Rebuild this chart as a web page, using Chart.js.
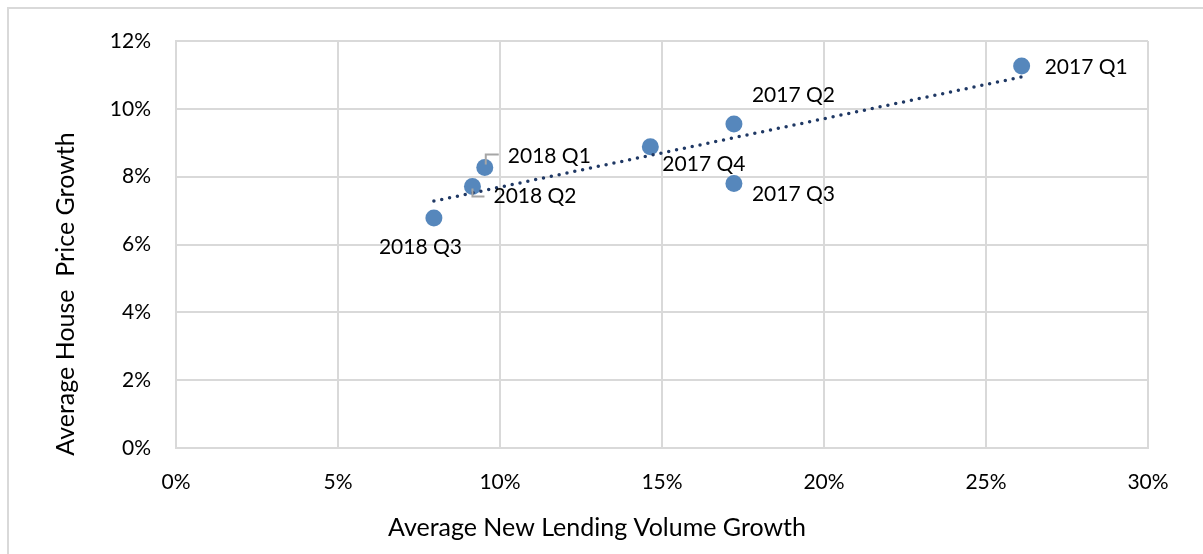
<!DOCTYPE html>
<html>
<head>
<meta charset="utf-8">
<script src="https://cdn.jsdelivr.net/npm/chart.js@4.4.1/dist/chart.umd.min.js"></script>
<style>
  html, body { margin: 0; padding: 0; background: #fff; }
  #wrap { position: relative; width: 1203px; height: 554px; }
  #frame { position: absolute; left: 7px; top: 7px; right: -2px; bottom: -2px; border-left: 2px solid #D9D9D9; border-top: 2px solid #D9D9D9; }
  canvas { position: absolute; left: 0; top: 0; }
</style>
</head>
<body>
<div id="wrap">
  <div id="frame"></div>
  <canvas id="scatterChart" width="1203" height="554"></canvas>
</div>
<script>
// quarter labels and values (% growth)
const quarters = ["2017 Q1", "2017 Q2", "2017 Q3", "2017 Q4", "2018 Q1", "2018 Q2", "2018 Q3"];
const lendingGrowth = [26.1, 17.22, 17.22, 14.64, 9.53, 9.15, 7.96];
const priceGrowth = [11.26, 9.55, 7.80, 8.88, 8.27, 7.71, 6.78];

// trendline end points
const trendX = [7.96, 26.1];
const trendY = [7.28, 10.94];

const xTicks = [0, 5, 10, 15, 20, 25, 30];
const yTicks = [0, 2, 4, 6, 8, 10, 12];

const xTitle = "Average New Lending Volume Growth";
const yTitle = "Average House  Price Growth";

// label offsets from each point (px)
const labelOffsets = [[23, 1], [18, -29], [18, 11], [12, 17], [23, -11], [21, 10], [-55, 29]];
// leader lines for the two crowded labels
const leaders = {
  4: [[1, -3], [1, -13], [14, -13]],
  5: [[0, 2], [0, 10], [12, 10]]
};

const FONT = "Lato, 'Open Sans', sans-serif";

document.addEventListener("DOMContentLoaded", function () {
  const ctx = document.getElementById("scatterChart").getContext("2d");

  const pointLabels = {
    id: "pointLabels",
    afterDatasetsDraw(chart) {
      const meta = chart.getDatasetMeta(1);
      const c = chart.ctx;
      c.save();
      // leader lines
      c.strokeStyle = "#A6A6A6";
      c.lineWidth = 2;
      Object.keys(leaders).forEach(function (k) {
        const p = meta.data[k];
        c.beginPath();
        leaders[k].forEach(function (o, j) {
          if (j === 0) c.moveTo(p.x + o[0], p.y + o[1]);
          else c.lineTo(p.x + o[0], p.y + o[1]);
        });
        c.stroke();
      });
      c.fillStyle = "#000";
      c.font = "21px " + FONT;
      c.textAlign = "left";
      c.textBaseline = "middle";
      meta.data.forEach(function (p, i) {
        c.fillText(quarters[i], p.x + labelOffsets[i][0], p.y + labelOffsets[i][1]);
      });
      c.restore();
    }
  };

  // axis titles, placed like the original (not centred on the plot area)
  const axisTitles = {
    id: "axisTitles",
    afterDraw(chart) {
      const c = chart.ctx;
      c.save();
      c.fillStyle = "#000";
      c.font = "25px " + FONT;
      c.textAlign = "center";
      c.textBaseline = "middle";
      c.fillText(xTitle, 597, 528);
      c.translate(66, 294);
      c.rotate(-Math.PI / 2);
      c.fillText(yTitle, 0, 0);
      c.restore();
    }
  };

  new Chart(ctx, {
    type: "scatter",
    data: {
      datasets: [
        {
          type: "line",
          label: "Trend",
          data: trendX.map((x, i) => ({ x: x, y: trendY[i] })),
          borderColor: "#1F3864",
          borderWidth: 3.5,
          borderDash: [0, 8],
          borderCapStyle: "round",
          pointRadius: 0,
          fill: false,
          order: 0,
        },
        {
          label: "Quarters",
          data: lendingGrowth.map((x, i) => ({ x: x, y: priceGrowth[i] })),
          backgroundColor: "#5687BC",
          borderWidth: 0,
          pointRadius: 8.5,
          pointHoverRadius: 8.5,
          order: 1,
        },
      ],
    },
    options: {
      responsive: false,
      animation: false,
      layout: { padding: { left: 0, top: 41, right: 55, bottom: 0 } },
      plugins: {
        legend: { display: false },
        tooltip: { enabled: false },
      },
      scales: {
        x: {
          type: "linear",
          min: 0,
          max: 30,
          afterBuildTicks: (s) => { s.ticks = xTicks.map((v) => ({ value: v })); },
          afterFit: (s) => { s.height = 106; },
          ticks: {
            callback: (v) => v + "%",
            color: "#000",
            font: { family: FONT, size: 21 },
            padding: 22,
            maxRotation: 0,
          },
          grid: { color: "#D9D9D9", lineWidth: 2, drawTicks: false },
          border: { color: "#D9D9D9", width: 2 },
          title: { display: false },
        },
        y: {
          type: "linear",
          min: 0,
          max: 12,
          afterBuildTicks: (s) => { s.ticks = yTicks.map((v) => ({ value: v })); },
          afterFit: (s) => { s.width = 176; },
          ticks: {
            callback: (v) => v + "%",
            color: "#000",
            font: { family: FONT, size: 21 },
            padding: 25,
          },
          grid: { color: "#D9D9D9", lineWidth: 2, drawTicks: false },
          border: { color: "#D9D9D9", width: 2 },
          title: { display: false },
        },
      },
    },
    plugins: [pointLabels, axisTitles],
  });
});
</script>
</body>
</html>
